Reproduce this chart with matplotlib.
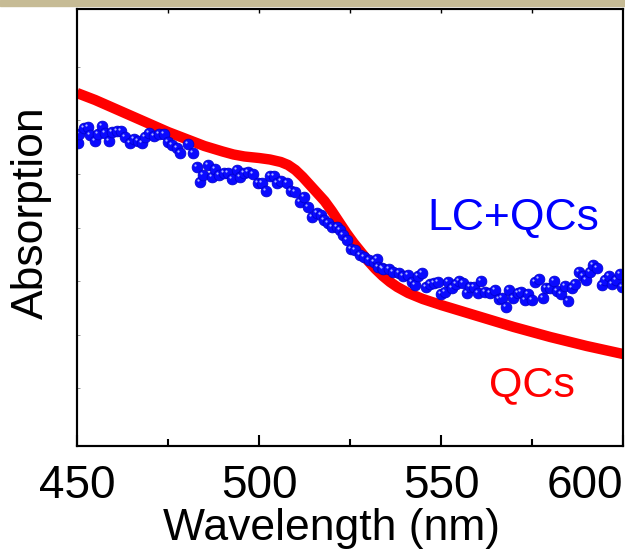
import matplotlib
matplotlib.use('Agg')
import matplotlib.pyplot as plt
import matplotlib.transforms as mtransforms
from matplotlib.patches import Rectangle
import numpy as np

# QCs absorption (red, smooth)
qc_wavelength = [450, 455, 460, 465, 470, 475, 480, 485, 490, 493, 496, 500, 503, 506,
                 508, 510, 512, 514, 516, 518, 520, 522, 524, 526, 528, 530, 532, 534,
                 536, 538, 541, 545, 550, 555, 560, 565, 570, 575, 580, 585, 590, 595, 600]
qc_absorption = [3.53, 3.46, 3.38, 3.30, 3.22, 3.14, 3.07, 3.00, 2.945, 2.915, 2.895,
                 2.88, 2.865, 2.84, 2.81, 2.76, 2.69, 2.61, 2.53, 2.45, 2.35, 2.24, 2.13,
                 2.03, 1.94, 1.85, 1.77, 1.70, 1.64, 1.59, 1.53, 1.47, 1.41, 1.355, 1.30,
                 1.245, 1.19, 1.14, 1.09, 1.045, 1.00, 0.96, 0.92]

# LC+QCs absorption (blue, scattered points)
lc_wavelength = [450.3, 450.5, 451.9, 453.0, 453.6, 454.9, 455.8, 456.9, 457.7, 458.8,
                 459.6, 461.0, 462.1, 463.2, 464.6, 465.7, 466.8, 467.9, 468.7, 469.8,
                 471.2, 472.5, 473.9, 475.0, 476.1, 477.5, 478.3, 480.5, 481.9, 483.0,
                 483.8, 484.6, 486.0, 487.1, 487.9, 489.0, 490.4, 491.5, 492.6, 494.0,
                 494.8, 495.9, 497.0, 498.4, 499.7, 500.8, 501.9, 503.0, 504.1, 504.9,
                 506.0, 507.7, 508.8, 509.9, 511.3, 512.4, 513.5, 514.6, 515.9, 517.0,
                 517.9, 519.0, 520.1, 521.4, 522.3, 523.1, 524.2, 525.3, 526.4, 527.7,
                 528.8, 530.2, 531.6, 532.4, 532.7, 533.8, 534.1, 535.7, 536.8, 538.5,
                 539.6, 540.9, 542.0, 542.9, 543.7, 544.8, 545.9, 547.0, 548.1, 549.2,
                 550.0, 551.1, 551.9, 553.0, 554.1, 554.9, 556.0, 557.1, 558.0, 559.1,
                 560.2, 561.0, 562.1, 563.5, 564.8, 565.9, 566.8, 567.9, 568.7, 569.8,
                 571.2, 572.0, 573.1, 573.9, 575.0, 575.8, 576.9, 578.0, 578.8, 579.9,
                 581.0, 581.9, 583.0, 584.1, 584.9, 586.0, 586.8, 587.9, 589.0, 589.8,
                 590.9, 591.8, 592.9, 594.2, 595.1, 596.2, 597.0, 598.1, 599.2, 599.7]
lc_absorption = [3.03, 3.12, 3.18, 3.19, 3.11, 3.05, 3.12, 3.20, 3.13, 3.05,
                 3.14, 3.15, 3.15, 3.09, 3.03, 3.07, 3.05, 3.03, 3.09, 3.13,
                 3.10, 3.12, 3.12, 3.04, 3.01, 2.98, 2.93, 3.02, 2.93, 2.79,
                 2.64, 2.71, 2.81, 2.69, 2.77, 2.71, 2.73, 2.73, 2.67, 2.76,
                 2.69, 2.73, 2.74, 2.72, 2.63, 2.63, 2.55, 2.70, 2.70, 2.63,
                 2.65, 2.63, 2.55, 2.54, 2.44, 2.49, 2.39, 2.29, 2.33, 2.31,
                 2.26, 2.23, 2.19, 2.19, 2.16, 2.11, 2.06, 1.97, 1.96, 1.91,
                 1.89, 1.86, 1.84, 1.87, 1.79, 1.78, 1.77, 1.77, 1.74, 1.73,
                 1.70, 1.71, 1.64, 1.61, 1.70, 1.73, 1.59, 1.62, 1.63, 1.64,
                 1.52, 1.54, 1.64, 1.58, 1.62, 1.65, 1.63, 1.53, 1.59, 1.59,
                 1.53, 1.65, 1.54, 1.53, 1.56, 1.47, 1.48, 1.39, 1.56, 1.48,
                 1.53, 1.54, 1.46, 1.52, 1.46, 1.64, 1.67, 1.48, 1.58, 1.58,
                 1.65, 1.55, 1.52, 1.60, 1.45, 1.58, 1.62, 1.74, 1.70, 1.66,
                 1.74, 1.81, 1.78, 1.61, 1.66, 1.70, 1.62, 1.66, 1.72, 1.59]

x_ticks = [450, 500, 550, 600]

font = ['Liberation Sans', 'DejaVu Sans']

fig = plt.figure(figsize=(6.25, 5.6), dpi=100)
fig.patches.append(Rectangle((0, 1 - 6 / 560), 1, 6 / 560, transform=fig.transFigure,
                             color='#c6bb95', zorder=0))
ax = fig.add_axes([77 / 625, 1 - 446 / 560, 546 / 625, 437 / 560])

ax.plot(qc_wavelength, qc_absorption, color='#ff0000', lw=7.5, solid_capstyle='butt',
        solid_joinstyle='round', zorder=2)

ax.plot(lc_wavelength, lc_absorption, ls='none', marker='o', ms=7.8, mfc='#0a0aff',
        mec='#0000c8', mew=0.5, zorder=3)
shine = ax.transData + mtransforms.ScaledTranslation(-2.0 / 100, 2.0 / 100, fig.dpi_scale_trans)
ax.plot(lc_wavelength, lc_absorption, ls='none', marker='o', ms=1.6, mfc='#b0b8ff',
        mec='none', transform=shine, zorder=4)

ax.text(570, 2.28, 'LC+QCs', color='#0000ff', fontsize=32, family=font,
        ha='center', va='center')
ax.text(575, 0.61, 'QCs', color='#ff0000', fontsize=31, family=font,
        ha='center', va='center')

ax.set_xlim(450, 600)
ax.set_ylim(0, 4.37)
ax.set_xticks(x_ticks)
ax.set_xticks(np.arange(475, 600, 50), minor=True)
ax.set_xticklabels([str(t) for t in x_ticks], fontsize=33, family=font)
ax.get_xticklabels()[-1].set_horizontalalignment('right')
ax.set_yticks(np.arange(0.58, 4.3, 0.535))
ax.set_yticklabels([])
ax.tick_params(axis='x', which='major', direction='in', length=8, width=1.5, pad=13)
ax.tick_params(axis='x', which='minor', direction='in', length=5, width=1.5)
ax.tick_params(axis='y', direction='in', length=2, width=0.6, color='#888888')

top = ax.twiny()
top.set_xlim(ax.get_xlim())
top.set_xticks(np.arange(475, 600, 25))
top.set_xticklabels([])
top.tick_params(axis='x', direction='in', length=3, width=1)

for a in (ax, top):
    for s in a.spines.values():
        s.set_linewidth(1.5)

ax.set_xlabel('Wavelength (nm)', fontsize=32, family=font)
ax.xaxis.set_label_coords(0.467, -0.142)
ax.set_ylabel('Absorption', fontsize=32, family=font)
ax.yaxis.set_label_coords(-0.046, 0.535)

fig.savefig('out.png', dpi=100)
